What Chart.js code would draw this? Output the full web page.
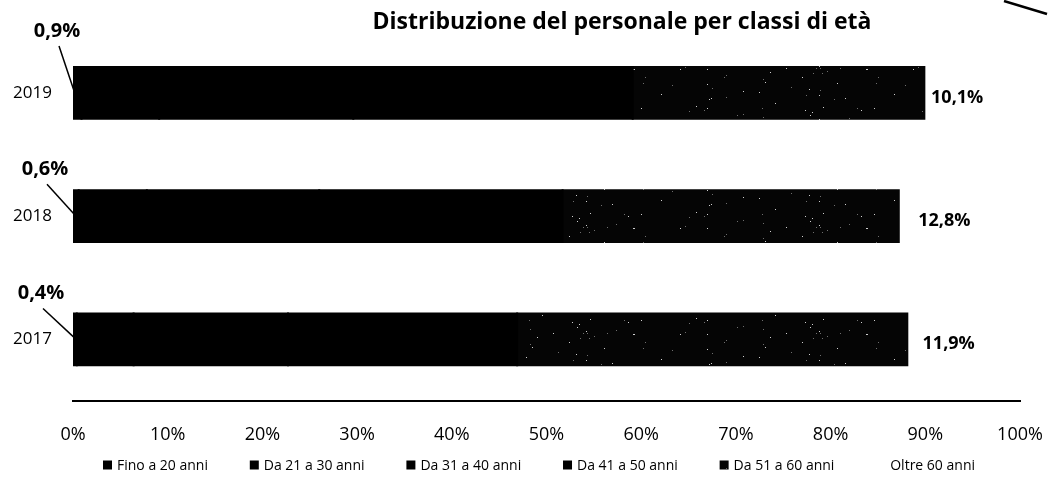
<!DOCTYPE html>
<html lang="it">
<head>
<meta charset="utf-8">
<title>Distribuzione del personale per classi di età</title>
<script src="https://cdn.jsdelivr.net/npm/chart.js@4.4.1/dist/chart.umd.min.js"></script>
<style>
  html, body { margin: 0; padding: 0; background: #fff; }
  #wrap { width: 1048px; height: 490px; }
</style>
</head>
<body>
<div id="wrap"><canvas id="ageChart" width="1048" height="490"></canvas></div>
<script>
// --- data (percent of staff per age class) ---
const years = ['2019', '2018', '2017'];
const ageClasses = ['Fino a 20 anni', 'Da 21 a 30 anni', 'Da 31 a 40 anni', 'Da 41 a 50 anni', 'Da 51 a 60 anni', 'Oltre 60 anni'];
const upTo20     = [0.9, 0.6, 0.4];
const from21to30 = [8.2, 7.2, 6.0];
const from31to40 = [20.5, 18.2, 16.3];
const from41to50 = [29.5, 25.7, 24.2];
const from51to60 = [30.8, 35.5, 41.2];
const over60     = [10.1, 12.8, 11.9];
const pctTicks = [0, 10, 20, 30, 40, 50, 60, 70, 80, 90, 100];

const FONT = "'Open Sans', 'DejaVu Sans', sans-serif";

// speckled near-black fill for the 51-60 segment
function speckle() {
    const c = document.createElement('canvas');
    c.width = 233; c.height = 53;
    const g = c.getContext('2d');
    g.fillStyle = '#050505';
    g.fillRect(0, 0, c.width, c.height);
    let s = 20190;
    const next = () => (s = (s * 1103515245 + 12345) % 2147483648) / 2147483648;
    for (let i = 0; i < 55; i++) {
        const x = Math.floor(next() * c.width), y = Math.floor(next() * c.height);
        g.fillStyle = next() > 0.45 ? '#cfcfcf' : '#6e6e6e';
        g.fillRect(x, y, 1, 1);
    }
    return g.createPattern(c, 'repeat');
}

const fmt = v => v.toFixed(1).replace('.', ',') + '%';

// manual placement of the small "Fino a 20" labels, per row (dx, dy from bar's top-left)
const smallLabelOffsets = [[-16, -36], [-28, -21], [-32, -20]];

const labelsPlugin = {
    id: 'ageLabels',
    afterDatasetsDraw(chart) {
        const ctx = chart.ctx;
        ctx.save();
        ctx.fillStyle = '#000';
        ctx.strokeStyle = '#000';
        ctx.textAlign = 'center';
        ctx.textBaseline = 'middle';

        // first class: label above-left with a leader line to the bar start
        ctx.font = `bold 20px ${FONT}`;
        chart.getDatasetMeta(0).data.forEach((el, i) => {
            const top = el.y - el.height / 2;
            const cx = el.base + smallLabelOffsets[i][0];
            const cy = top + smallLabelOffsets[i][1];
            ctx.fillText(fmt(upTo20[i]), cx, cy);
            ctx.lineWidth = 1.5;
            ctx.beginPath();
            ctx.moveTo(cx + 2, cy + 15);
            ctx.lineTo(el.base + 1, el.y - 2);
            ctx.stroke();
        });

        // last class: value inside its (white) segment
        ctx.font = `bold 18px ${FONT}`;
        chart.getDatasetMeta(5).data.forEach((el, i) => {
            ctx.fillText(fmt(over60[i]), (el.base + el.x) / 2 - 15, el.y + 5);
        });
        ctx.restore();
    },
    afterDraw(chart) {
        const ctx = chart.ctx;
        ctx.save();
        ctx.fillStyle = '#000';
        ctx.textBaseline = 'middle';

        ctx.font = `bold 23px ${FONT}`;
        ctx.textAlign = 'center';
        ctx.fillText('Distribuzione del personale per classi di età', 622, 22);

        // legend row
        ctx.font = `14px ${FONT}`;
        ctx.textAlign = 'left';
        const box = 9, gapIn = 5, startX = 103, endX = 975, rowY = 466;
        const widths = ageClasses.map(t => ctx.measureText(t).width);
        const used = widths.reduce((a, w) => a + box + gapIn + w, 0);
        const gap = (endX - startX - used) / (ageClasses.length - 1);
        let x = startX;
        chart.data.datasets.forEach((ds, k) => {
            ctx.fillStyle = ds.backgroundColor;
            ctx.fillRect(x, rowY - box / 2 - 1, box, box);
            ctx.fillStyle = '#000';
            ctx.fillText(ds.label, x + box + gapIn, rowY);
            x += box + gapIn + widths[k] + gap;
        });

        // pen stroke in the corner
        ctx.strokeStyle = '#000';
        ctx.lineWidth = 2.5;
        ctx.beginPath();
        ctx.moveTo(1004, 1);
        ctx.quadraticCurveTo(1024, 7, 1047, 14);
        ctx.stroke();
        ctx.restore();
    }
};

const seriesValues = [upTo20, from21to30, from31to40, from41to50, from51to60, over60];
const seriesColors = ['#000', '#000', '#000', '#000', speckle(), '#fff'];

new Chart(document.getElementById('ageChart'), {
    type: 'bar',
    data: {
        labels: years,
        datasets: ageClasses.map((name, k) => ({
            label: name,
            data: seriesValues[k],
            backgroundColor: seriesColors[k],
            borderWidth: 0,
            inflateAmount: k < 5 ? 1 : 0,
            barPercentage: 0.42,
            categoryPercentage: 1
        }))
    },
    options: {
        indexAxis: 'y',
        responsive: false,
        animation: false,
        layout: { padding: { top: 27, right: 28, bottom: 41, left: 0 } },
        plugins: {
            legend: { display: false },
            tooltip: { enabled: false }
        },
        scales: {
            x: {
                stacked: true,
                min: 0,
                max: 100,
                afterBuildTicks: s => { s.ticks = pctTicks.map(v => ({ value: v })); },
                ticks: {
                    callback: v => v + '%',
                    color: '#000',
                    padding: 23,
                    maxRotation: 0,
                    font: { family: FONT, size: 18 }
                },
                grid: { display: false, drawTicks: false },
                border: { display: true, color: '#000', width: 2 },
                afterFit: s => { s.height = 48; s.paddingLeft = 0; s.paddingRight = 0; }
            },
            y: {
                stacked: true,
                ticks: {
                    color: '#000',
                    padding: 21,
                    font: { family: FONT, size: 17 }
                },
                grid: { display: false, drawTicks: false },
                border: { display: false },
                afterFit: s => { s.width = 73; }
            }
        }
    },
    plugins: [labelsPlugin]
});
</script>
</body>
</html>
